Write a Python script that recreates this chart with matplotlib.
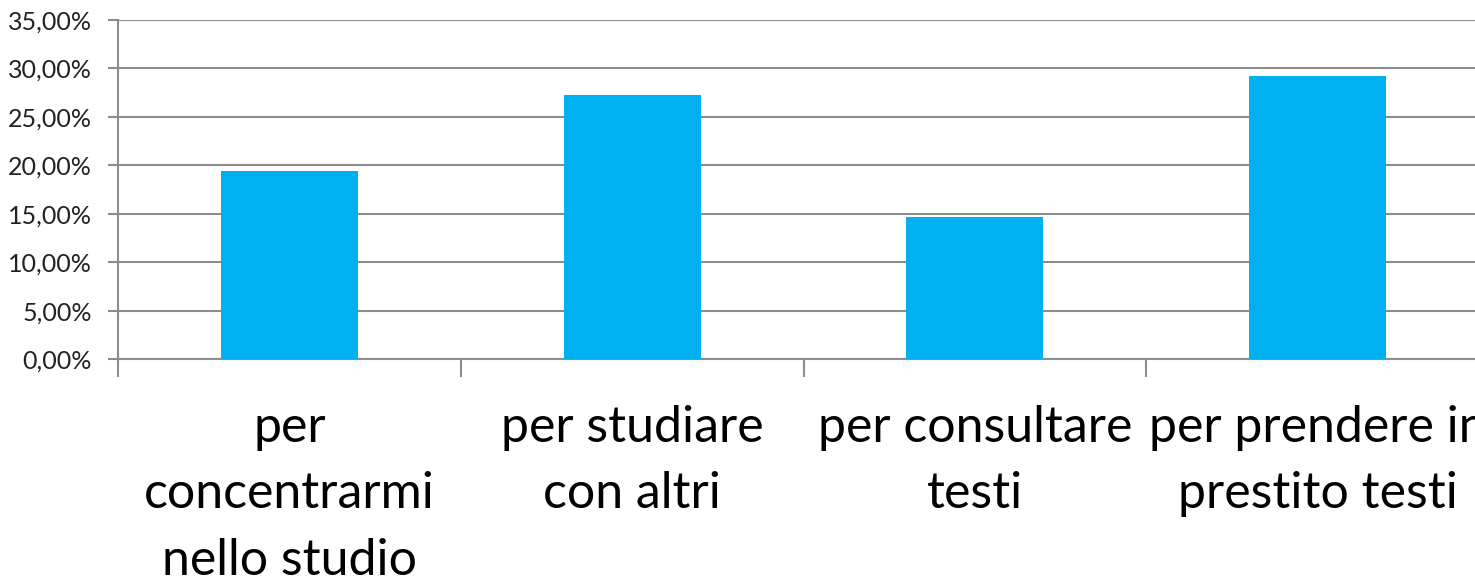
import matplotlib
matplotlib.use("Agg")
import matplotlib.pyplot as plt
from matplotlib.ticker import FuncFormatter, FixedLocator
import numpy as np

categories = ["per\nconcentrarmi\nnello studio", "per studiare\ncon altri",
              "per consultare\ntesti", "per prendere in\nprestito testi"]
values = [19.45, 27.25, 14.68, 29.2]
y_ticks = [0, 5, 10, 15, 20, 25, 30, 35]

plt.rcParams['font.family'] = ['Lato', 'DejaVu Sans']

fig = plt.figure(figsize=(14.75, 5.78), dpi=100)
ax = fig.add_axes([118/1475, 218.7/578, 1371/1475, 339.3/578])

x = np.arange(len(categories))
ax.bar(x, values, width=0.4, color="#00B0F0", zorder=3)

ax.set_xlim(-0.5, len(categories) - 0.5)
ax.set_ylim(0, 35)
ax.set_yticks(y_ticks)
ax.yaxis.set_major_formatter(FuncFormatter(lambda v, p: f"{v:.2f}%".replace('.', ',')))
ax.yaxis.grid(True, color="#8c8c8c", linewidth=1.5, zorder=1)
ax.tick_params(axis='y', length=7, width=1.5, color="#8c8c8c", labelsize=18, pad=12, labelcolor="#222222")

ax.xaxis.set_major_locator(FixedLocator(np.arange(len(categories) + 1) - 0.5))
ax.xaxis.set_major_formatter(FuncFormatter(lambda v, p: ""))
ax.xaxis.set_minor_locator(FixedLocator(x))
ax.set_xticklabels(categories, minor=True)
ax.tick_params(axis='x', which='major', length=13, width=1.5, color="#8c8c8c")
ax.tick_params(axis='x', which='minor', length=0, labelsize=36, pad=33)
for lbl in ax.get_xticklabels(minor=True):
    lbl.set_linespacing(1.55)

for s in ['top', 'right']:
    ax.spines[s].set_visible(False)
ax.spines['left'].set_color("#8c8c8c")
ax.spines['left'].set_linewidth(1.5)
ax.spines['bottom'].set_color("#8c8c8c")
ax.spines['bottom'].set_linewidth(1.5)

fig.savefig("out.png", dpi=100)
